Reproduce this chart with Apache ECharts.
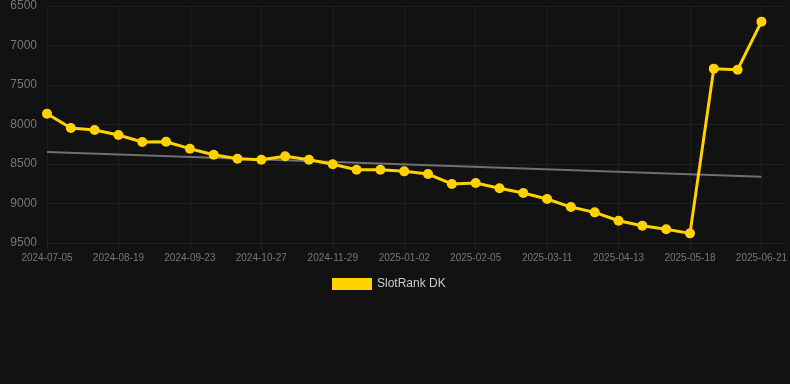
<!DOCTYPE html>
<html>
<head>
<meta charset="utf-8">
<script src="https://cdn.jsdelivr.net/npm/echarts@6/dist/echarts.min.js"></script>
<style>
html,body{margin:0;padding:0;background:#121212;}
#c{width:790px;height:384px;}
</style>
</head>
<body>
<div id="c"></div>
<script>
var categories = [
  "2024-07-05","2024-07-20","2024-08-04","2024-08-19","2024-08-31","2024-09-11",
  "2024-09-23","2024-10-04","2024-10-15","2024-10-27","2024-11-07","2024-11-18",
  "2024-11-29","2024-12-10","2024-12-21","2025-01-02","2025-01-13","2025-01-24",
  "2025-02-05","2025-02-16","2025-02-27","2025-03-11","2025-03-22","2025-04-02",
  "2025-04-13","2025-04-24","2025-05-06","2025-05-18","2025-05-29","2025-06-09",
  "2025-06-21","2025-07-02"
];
var rankValues = [
  7865, 8044, 8070, 8133, 8222, 8218, 8306, 8382, 8433, 8446, 8403, 8446,
  8504, 8572, 8572, 8593, 8627, 8753, 8741, 8808, 8867, 8943, 9045, 9112,
  9218, 9281, 9327, 9378, 7293, 7306, 6698
];
var trendStart = 8348;
var trendEnd = 8661;
var yTicks = { min: 6500, max: 9500, step: 500 };
var seriesName = "SlotRank DK";

var chart = echarts.init(document.getElementById('c'), null, {renderer: 'canvas'});
var lastIdx = rankValues.length - 1;
chart.setOption({
  backgroundColor: '#121212',
  animation: false,
  grid: { left: 47, right: 4, top: 6, bottom: 141, containLabel: false },
  legend: {
    data: [seriesName],
    left: 327, top: 273,
    itemWidth: 40, itemHeight: 12, itemGap: 10,
    textStyle: { color: '#cccccc', fontSize: 12, fontFamily: 'Liberation Sans, Arial, sans-serif' },
    icon: 'rect'
  },
  xAxis: {
    type: 'category',
    data: categories,
    boundaryGap: false,
    axisLine: { show: false },
    axisTick: { show: true, interval: 2, length: 6, lineStyle: { color: '#222222' } },
    axisLabel: { interval: 2, color: '#777777', fontSize: 10, margin: 10, fontFamily: 'Liberation Sans, Arial, sans-serif' },
    splitLine: { show: true, interval: 2, lineStyle: { color: '#1f1f1f', width: 1 } }
  },
  yAxis: {
    type: 'value',
    inverse: true,
    min: yTicks.min, max: yTicks.max, interval: yTicks.step,
    axisLine: { show: false },
    axisTick: { show: false },
    axisLabel: { color: '#777777', fontSize: 12, margin: 10, fontFamily: 'Liberation Sans, Arial, sans-serif',
      formatter: function (v) { return String(v); } },
    splitLine: { show: true, lineStyle: { color: '#1f1f1f', width: 1 } }
  },
  series: [
    {
      name: 'trend',
      type: 'line',
      data: [[0, trendStart], [lastIdx, trendEnd]],
      symbol: 'none',
      lineStyle: { color: '#707070', width: 2 },
      z: 1,
      silent: true
    },
    {
      name: seriesName,
      type: 'line',
      data: rankValues,
      symbol: 'circle',
      symbolSize: 10,
      itemStyle: { color: '#ffd200' },
      lineStyle: { color: '#ffd200', width: 3 },
      z: 2
    }
  ]
});
</script>
</body>
</html>
